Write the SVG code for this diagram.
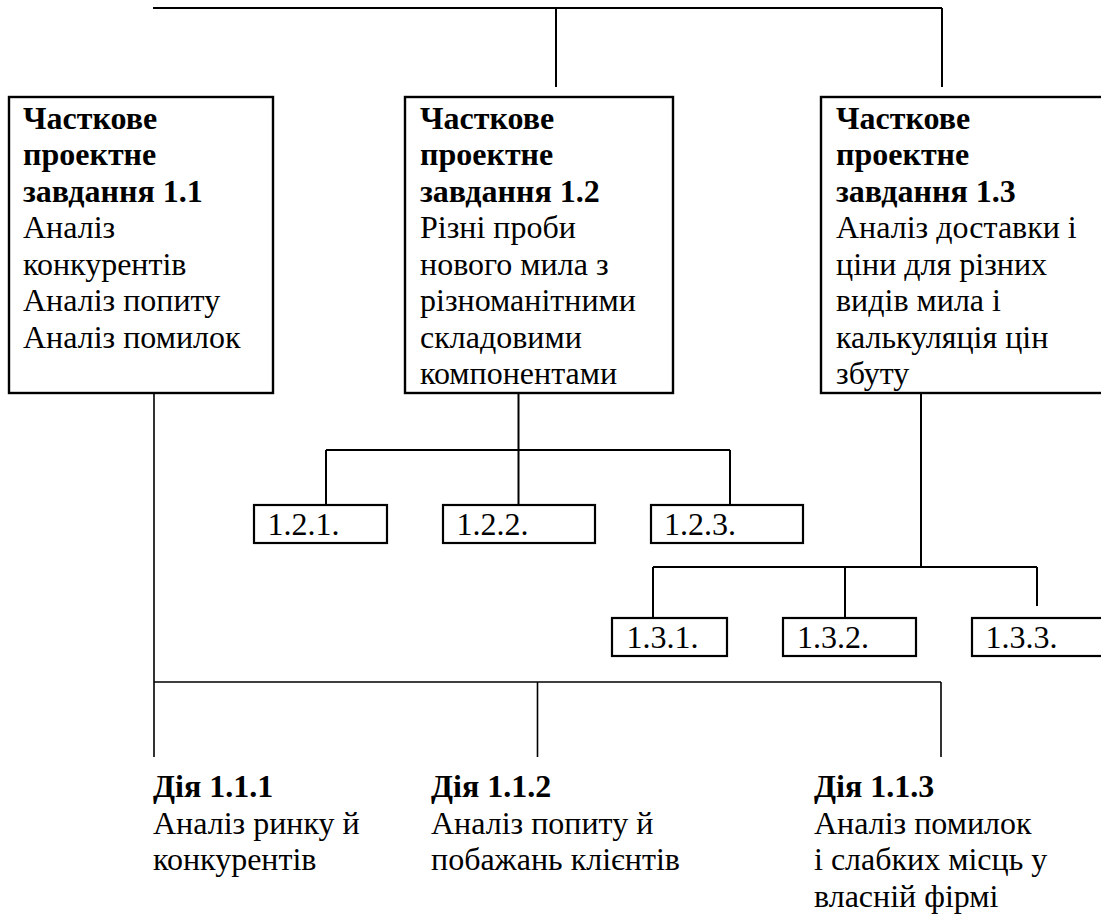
<svg xmlns="http://www.w3.org/2000/svg" width="1101" height="917" viewBox="0 0 1101 917">
  <style>
    .box { fill: #fff; stroke: #000; stroke-width: 2.4; }
    .sub { fill: #fff; stroke: #000; stroke-width: 2.2; }
    .wire { fill: none; stroke: #000; stroke-width: 2; }
    .thin { fill: none; stroke: #000; stroke-width: 1.6; }
    .t { font-family: 'Liberation Serif', 'DejaVu Serif', serif; font-size: 32px; fill: #000; }
    .b { font-weight: bold; }
  </style>

  <!-- connectors -->
  <g id="connectors">
    <path class="wire" d="M153 8 H942 M556 8 V87 M942 8 V87"/>
    <path class="wire" d="M518.5 393 V505 M326 450 H730 M326 450 V507 M730 450 V507"/>
    <path class="wire" d="M921 393 V567 M653 567 H1037 M653 567 V622 M845 567 V621 M1037 567 V606"/>
    <path class="thin" d="M154 393 V757 M154 682 H941 M537.5 682 V757 M941 682 V757"/>
  </g>

  <g id="task-1-1">
    <rect class="box" x="9" y="97" width="264" height="296"/>
    <text class="t" font-family="Liberation Serif" x="23" y="128.5"><tspan class="b">Часткове</tspan><tspan class="b" x="23" dy="36.5">проектне</tspan><tspan class="b" x="23" dy="36.5">завдання 1.1</tspan><tspan x="23" dy="36.5">Аналіз</tspan><tspan x="23" dy="36.5">конкурентів</tspan><tspan x="23" dy="36.5">Аналіз попиту</tspan><tspan x="23" dy="36.5">Аналіз помилок</tspan></text>
  </g>

  <g id="task-1-2">
    <rect class="box" x="405" y="97" width="268" height="296"/>
    <text class="t" x="420" y="128.5"><tspan class="b">Часткове</tspan><tspan class="b" x="420" dy="36.5">проектне</tspan><tspan class="b" x="420" dy="36.5">завдання 1.2</tspan><tspan x="420" dy="36.5">Різні проби</tspan><tspan x="420" dy="36.5">нового мила з</tspan><tspan x="420" dy="36.5">різноманітними</tspan><tspan x="420" dy="36.5">складовими</tspan><tspan x="420" dy="36.5">компонентами</tspan></text>
  </g>

  <g id="task-1-3">
    <rect class="box" x="821" y="97" width="300" height="296"/>
    <text class="t" x="836" y="128.5"><tspan class="b">Часткове</tspan><tspan class="b" x="836" dy="36.5">проектне</tspan><tspan class="b" x="836" dy="36.5">завдання 1.3</tspan><tspan x="836" dy="36.5">Аналіз доставки і</tspan><tspan x="836" dy="36.5">ціни для різних</tspan><tspan x="836" dy="36.5">видів мила і</tspan><tspan x="836" dy="36.5">калькуляція цін</tspan><tspan x="836" dy="36.5">збуту</tspan></text>
  </g>

  <g id="item-1-2-1">
    <rect class="sub" x="254" y="505" width="133" height="38"/>
    <text class="t" x="267.5" y="535">1.2.1.</text>
  </g>
  <g id="item-1-2-2">
    <rect class="sub" x="443" y="505" width="152" height="38"/>
    <text class="t" x="456.5" y="535">1.2.2.</text>
  </g>
  <g id="item-1-2-3">
    <rect class="sub" x="651" y="505" width="152" height="38"/>
    <text class="t" x="664" y="535">1.2.3.</text>
  </g>

  <g id="item-1-3-1">
    <rect class="sub" x="612" y="618" width="115" height="38"/>
    <text class="t" x="626.5" y="647.5">1.3.1.</text>
  </g>
  <g id="item-1-3-2">
    <rect class="sub" x="783" y="618" width="133" height="38"/>
    <text class="t" x="797" y="647.5">1.3.2.</text>
  </g>
  <g id="item-1-3-3">
    <rect class="sub" x="972" y="618" width="150" height="38"/>
    <text class="t" x="985.5" y="647.5">1.3.3.</text>
  </g>

  <g id="action-1-1-1">
    <text class="t" x="153" y="797"><tspan class="b">Дія 1.1.1</tspan><tspan x="153" dy="36.7">Аналіз ринку й</tspan><tspan x="153" dy="36.7">конкурентів</tspan></text>
  </g>
  <g id="action-1-1-2">
    <text class="t" x="431" y="797"><tspan class="b">Дія 1.1.2</tspan><tspan x="431" dy="36.7">Аналіз попиту й</tspan><tspan x="431" dy="36.7">побажань клієнтів</tspan></text>
  </g>
  <g id="action-1-1-3">
    <text class="t" x="814" y="797"><tspan class="b">Дія 1.1.3</tspan><tspan x="814" dy="36.7">Аналіз помилок</tspan><tspan x="814" dy="36.7">і слабких місць у</tspan><tspan x="814" dy="36.7">власній фірмі</tspan></text>
  </g>
</svg>
